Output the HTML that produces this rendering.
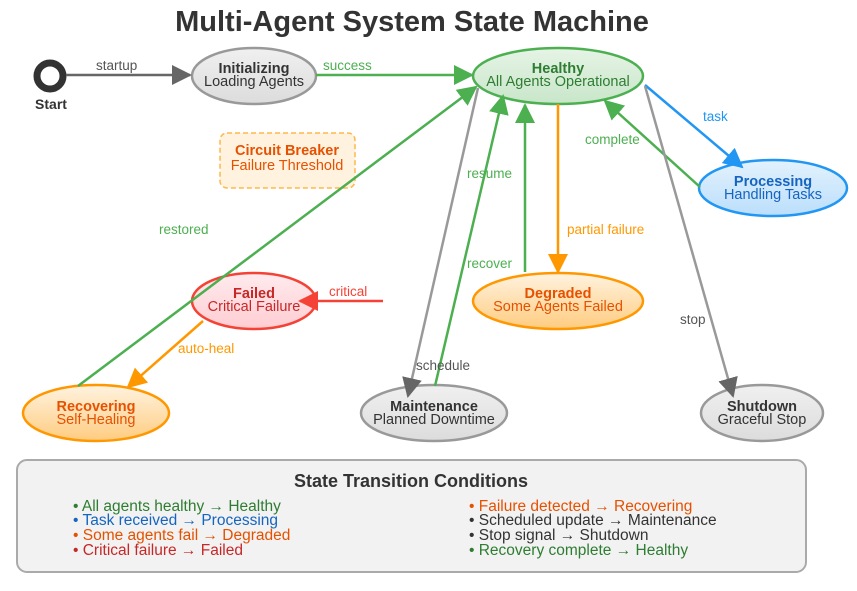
<!DOCTYPE html>
<html><head><meta charset="utf-8"><style>
body{margin:0;background:#fff}
svg{display:block;font-family:"Liberation Sans",Arial,sans-serif}
</style></head><body>
<svg width="857" height="591" viewBox="0 0 857 591" xmlns="http://www.w3.org/2000/svg">
<defs>
<marker id="mg" viewBox="0 0 10 10" refX="9" refY="5" markerWidth="20" markerHeight="20" orient="auto" markerUnits="userSpaceOnUse"><path d="M0,0L10,5L0,10z" fill="#4caf50"/></marker>
<marker id="mgr" viewBox="0 0 10 10" refX="9" refY="5" markerWidth="20" markerHeight="20" orient="auto" markerUnits="userSpaceOnUse"><path d="M0,0L10,5L0,10z" fill="#666"/></marker>
<marker id="mb" viewBox="0 0 10 10" refX="9" refY="5" markerWidth="20" markerHeight="20" orient="auto" markerUnits="userSpaceOnUse"><path d="M0,0L10,5L0,10z" fill="#2196f3"/></marker>
<marker id="mo" viewBox="0 0 10 10" refX="9" refY="5" markerWidth="20" markerHeight="20" orient="auto" markerUnits="userSpaceOnUse"><path d="M0,0L10,5L0,10z" fill="#ff9800"/></marker>
<marker id="mr" viewBox="0 0 10 10" refX="9" refY="5" markerWidth="20" markerHeight="20" orient="auto" markerUnits="userSpaceOnUse"><path d="M0,0L10,5L0,10z" fill="#f44336"/></marker>
<linearGradient id="gg" x1="0" y1="0" x2="0" y2="1"><stop offset="0" stop-color="#f0f0f0"/><stop offset="1" stop-color="#dcdcdc"/></linearGradient>
<linearGradient id="gh" x1="0" y1="0" x2="0" y2="1"><stop offset="0" stop-color="#e6f4e6"/><stop offset="1" stop-color="#c8e6c9"/></linearGradient>
<linearGradient id="gb" x1="0" y1="0" x2="0" y2="1"><stop offset="0" stop-color="#e3f2fd"/><stop offset="1" stop-color="#bbdefb"/></linearGradient>
<linearGradient id="go" x1="0" y1="0" x2="0" y2="1"><stop offset="0" stop-color="#fff3e0"/><stop offset="1" stop-color="#ffcc80"/></linearGradient>
<linearGradient id="gr" x1="0" y1="0" x2="0" y2="1"><stop offset="0" stop-color="#ffebee"/><stop offset="1" stop-color="#ffcdd2"/></linearGradient>
</defs>
<text x="412" y="31" text-anchor="middle" font-size="29" font-weight="bold" fill="#333">Multi-Agent System State Machine</text>

<circle cx="50" cy="76" r="13" fill="#fff" stroke="#333" stroke-width="7"/>
<text x="51" y="109" text-anchor="middle" font-size="14" font-weight="bold" fill="#333">Start</text>

<rect x="220" y="133" width="135" height="55" rx="7" fill="#fff3e0" stroke="#ffb74d" stroke-width="1.5" stroke-dasharray="5,3"/>
<text x="287" y="155" text-anchor="middle" font-size="14.5" font-weight="bold" fill="#e65100">Circuit Breaker</text>
<text x="287" y="170" text-anchor="middle" font-size="14.5" fill="#e65100">Failure Threshold</text>

<g stroke-width="2.5">
<ellipse cx="254" cy="76" rx="62" ry="28" fill="url(#gg)" stroke="#999"/>
<ellipse cx="558" cy="76" rx="85" ry="28" fill="url(#gh)" stroke="#4caf50"/>
<ellipse cx="773" cy="188" rx="74" ry="28" fill="url(#gb)" stroke="#2196f3"/>
<ellipse cx="558" cy="301" rx="85" ry="28" fill="url(#go)" stroke="#ff9800"/>
<ellipse cx="254" cy="301" rx="62" ry="28" fill="url(#gr)" stroke="#f44336"/>
<ellipse cx="96" cy="413" rx="73" ry="28" fill="url(#go)" stroke="#ff9800"/>
<ellipse cx="434" cy="413" rx="73" ry="28" fill="url(#gg)" stroke="#999"/>
<ellipse cx="762" cy="413" rx="61" ry="28" fill="url(#gg)" stroke="#999"/>
</g>

<g stroke-width="2.5" fill="none">
<line x1="66" y1="75" x2="190" y2="75" stroke="#666" marker-end="url(#mgr)"/>
<line x1="316" y1="75" x2="472" y2="75" stroke="#4caf50" marker-end="url(#mg)"/>
<line x1="645" y1="85" x2="742" y2="167" stroke="#2196f3" marker-end="url(#mb)"/>
<line x1="700" y1="187" x2="605" y2="101" stroke="#4caf50" marker-end="url(#mg)"/>
<line x1="558" y1="104" x2="558" y2="272" stroke="#ff9800" marker-end="url(#mo)"/>
<line x1="525" y1="272" x2="525" y2="105" stroke="#4caf50" marker-end="url(#mg)"/>
<line x1="435" y1="386" x2="503" y2="96" stroke="#4caf50" marker-end="url(#mg)"/>
<line x1="478" y1="88" x2="408" y2="396" stroke="#999" marker-end="url(#mgr)"/>
<line x1="645" y1="86" x2="733" y2="396" stroke="#999" marker-end="url(#mgr)"/>
<line x1="78" y1="386" x2="476" y2="87" stroke="#4caf50" marker-end="url(#mg)"/>
<line x1="383" y1="301" x2="300" y2="301" stroke="#f44336" marker-end="url(#mr)"/>
<line x1="203" y1="321" x2="128" y2="387" stroke="#ff9800" marker-end="url(#mo)"/>
</g>

<g font-size="14.5" text-anchor="middle">
<text x="254" y="73" font-weight="bold" fill="#333">Initializing</text><text x="254" y="86" fill="#333">Loading Agents</text>
<text x="558" y="73" font-weight="bold" fill="#2e7d32">Healthy</text><text x="558" y="86" fill="#2e7d32">All Agents Operational</text>
<text x="773" y="186" font-weight="bold" fill="#1565c0">Processing</text><text x="773" y="199" fill="#1565c0">Handling Tasks</text>
<text x="558" y="298" font-weight="bold" fill="#e65100">Degraded</text><text x="558" y="311" fill="#e65100">Some Agents Failed</text>
<text x="254" y="298" font-weight="bold" fill="#c62828">Failed</text><text x="254" y="311" fill="#c62828">Critical Failure</text>
<text x="96" y="411" font-weight="bold" fill="#e65100">Recovering</text><text x="96" y="424" fill="#e65100">Self-Healing</text>
<text x="434" y="411" font-weight="bold" fill="#333">Maintenance</text><text x="434" y="424" fill="#333">Planned Downtime</text>
<text x="762" y="411" font-weight="bold" fill="#333">Shutdown</text><text x="762" y="424" fill="#333">Graceful Stop</text>
</g>

<g font-size="13.5">
<text x="96" y="70" fill="#555">startup</text>
<text x="323" y="70" fill="#4caf50">success</text>
<text x="703" y="121" fill="#2196f3">task</text>
<text x="585" y="144" fill="#4caf50">complete</text>
<text x="467" y="178" fill="#4caf50">resume</text>
<text x="567" y="234" fill="#ff9800">partial failure</text>
<text x="467" y="268" fill="#4caf50">recover</text>
<text x="159" y="234" fill="#4caf50">restored</text>
<text x="329" y="296" fill="#f44336">critical</text>
<text x="178" y="353" fill="#ff9800">auto-heal</text>
<text x="416" y="370" fill="#555">schedule</text>
<text x="680" y="324" fill="#555">stop</text>
</g>

<rect x="17" y="460" width="789" height="112" rx="10" fill="#f2f2f2" stroke="#aaa" stroke-width="2"/>
<text x="411" y="487" text-anchor="middle" font-size="18" font-weight="bold" fill="#333">State Transition Conditions</text>
<g font-size="15.5">
<text x="73" y="511" fill="#2e7d32">• All agents healthy → Healthy</text>
<text x="73" y="525" fill="#1565c0">• Task received → Processing</text>
<text x="73" y="540" fill="#e65100">• Some agents fail → Degraded</text>
<text x="73" y="555" fill="#c62828">• Critical failure → Failed</text>
<text x="469" y="511" fill="#e65100">• Failure detected → Recovering</text>
<text x="469" y="525" fill="#333">• Scheduled update → Maintenance</text>
<text x="469" y="540" fill="#333">• Stop signal → Shutdown</text>
<text x="469" y="555" fill="#2e7d32">• Recovery complete → Healthy</text>
</g>
</svg>
</body></html>
